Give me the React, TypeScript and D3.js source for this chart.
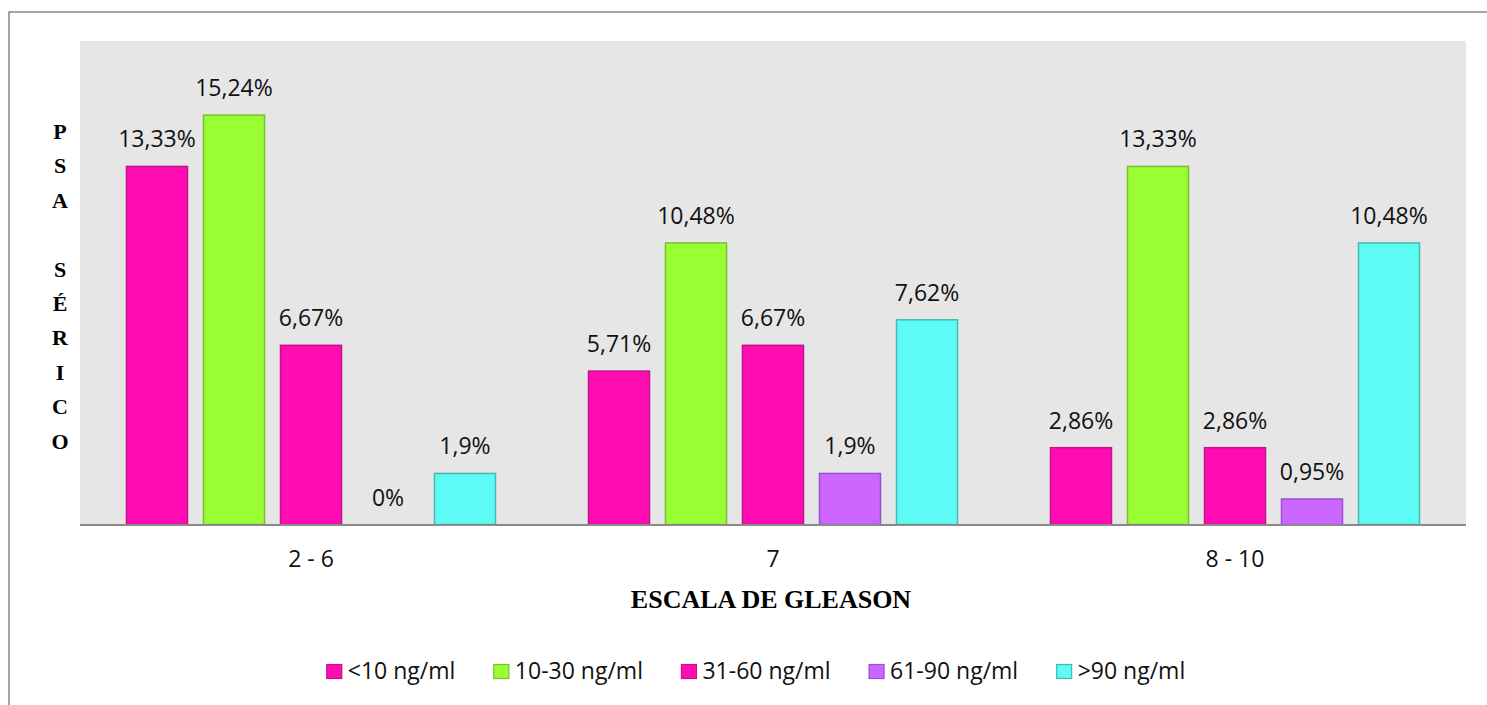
import React, { useEffect, useRef } from "react";
import * as d3 from "d3";

// Gleason score groups
const categories = ["2 - 6", "7", "8 - 10"];

// Serum PSA ranges (series)
const seriesNames = ["<10 ng/ml", "10-30 ng/ml", "31-60 ng/ml", "61-90 ng/ml", ">90 ng/ml"];

// Percentage of patients per PSA range, one array per Gleason group
const values26 = [13.33, 15.24, 6.67, 0, 1.9];
const values7 = [5.71, 10.48, 6.67, 1.9, 7.62];
const values810 = [2.86, 13.33, 2.86, 0.95, 10.48];
const groupValues = [values26, values7, values810];

const fills = ["#FF0DB0", "#99FF33", "#FF0DB0", "#CC66FF", "#5CFCF5"];
const strokes = ["#C4128A", "#78BF2C", "#C4128A", "#9A4FCB", "#45B8B2"];

const yAxisTitle = ["P", "S", "A", "", "S", "É", "R", "I", "C", "O"];
const xAxisTitle = "ESCALA DE GLEASON";

const W = 1487;
const H = 705;
const plot = { left: 80, right: 1466, top: 41, bottom: 524.5 };
const labelFont = "'Open Sans', 'DejaVu Sans', sans-serif";
const titleFont = "'Liberation Serif', 'Times New Roman', serif";

const fmt = (v: number) => String(v).replace(".", ",") + "%";

export default function App() {
  const ref = useRef<SVGSVGElement | null>(null);

  useEffect(() => {
    const svg = d3.select(ref.current);
    svg.selectAll("*").remove();

    // outer frame
    svg
      .append("rect")
      .attr("x", 9)
      .attr("y", 12)
      .attr("width", W + 20)
      .attr("height", H + 20)
      .attr("fill", "#fff")
      .attr("stroke", "#8c8c8c")
      .attr("stroke-width", 1.6);

    // plot background
    svg
      .append("rect")
      .attr("x", plot.left)
      .attr("y", plot.top)
      .attr("width", plot.right - plot.left)
      .attr("height", plot.bottom - plot.top)
      .attr("fill", "#E6E6E6");

    const x0 = d3.scaleBand<string>().domain(categories).range([plot.left, plot.right]).padding(0);
    const x1 = d3
      .scaleBand<string>()
      .domain(seriesNames)
      .range([0, x0.bandwidth()])
      .paddingInner(15 / 77)
      .paddingOuter((1 + 15 / 77) / 2);
    const y = d3.scaleLinear().domain([0, 18]).range([plot.bottom, plot.top]);

    const groups = svg
      .selectAll("g.cat")
      .data(categories)
      .join("g")
      .attr("class", "cat")
      .attr("transform", (c) => `translate(${x0(c)},0)`);

    groups.each(function (c, ci) {
      const g = d3.select(this);
      const vals = groupValues[ci];
      seriesNames.forEach((s, si) => {
        const v = vals[si];
        const bx = x1(s)!;
        if (v > 0) {
          g.append("rect")
            .attr("x", bx + 0.5)
            .attr("y", y(v))
            .attr("width", x1.bandwidth() - 1)
            .attr("height", y(0) - y(v))
            .attr("fill", fills[si])
            .attr("stroke", strokes[si])
            .attr("stroke-width", 1.5);
        }
        g.append("text")
          .attr("x", bx + x1.bandwidth() / 2)
          .attr("y", y(v) - 19)
          .attr("text-anchor", "middle")
          .attr("font-family", labelFont)
          .attr("font-size", 23)
          .attr("fill", "#111")
          .text(fmt(v));
      });
    });

    // category axis line
    svg
      .append("line")
      .attr("x1", plot.left)
      .attr("x2", plot.right)
      .attr("y1", plot.bottom + 0.5)
      .attr("y2", plot.bottom + 0.5)
      .attr("stroke", "#8a8a8a")
      .attr("stroke-width", 2);

    // category labels
    svg
      .selectAll("text.cat-label")
      .data(categories)
      .join("text")
      .attr("class", "cat-label")
      .attr("x", (c) => x0(c)! + x0.bandwidth() / 2)
      .attr("y", 567)
      .attr("text-anchor", "middle")
      .attr("font-family", labelFont)
      .attr("font-size", 23)
      .attr("fill", "#111")
      .text((c) => c);

    // x axis title
    svg
      .append("text")
      .attr("x", 771)
      .attr("y", 608)
      .attr("text-anchor", "middle")
      .attr("font-family", titleFont)
      .attr("font-weight", "bold")
      .attr("font-size", 26)
      .attr("fill", "#000")
      .text(xAxisTitle);

    // y axis title, stacked letters
    svg
      .selectAll("text.ytitle")
      .data(yAxisTitle)
      .join("text")
      .attr("class", "ytitle")
      .attr("x", 60)
      .attr("y", (_, i) => 139 + i * 34.4)
      .attr("text-anchor", "middle")
      .attr("font-family", titleFont)
      .attr("font-weight", "bold")
      .attr("font-size", 22)
      .attr("fill", "#000")
      .text((d) => d);

    // legend, laid out from measured text widths and centred
    const legend = svg.append("g");
    const items = legend
      .selectAll("g.item")
      .data(seriesNames)
      .join("g")
      .attr("class", "item");
    items
      .append("rect")
      .attr("x", 0)
      .attr("y", 664.5)
      .attr("width", 15)
      .attr("height", 14)
      .attr("fill", (_, i) => fills[i])
      .attr("stroke", (_, i) => strokes[i])
      .attr("stroke-width", 1.2);
    items
      .append("text")
      .attr("x", 21)
      .attr("y", 679)
      .attr("font-family", labelFont)
      .attr("font-size", 23)
      .attr("fill", "#111")
      .text((d) => d);
    const widths: number[] = [];
    items.each(function () {
      const t = d3.select(this).select("text").node() as SVGTextElement;
      widths.push(21 + t.getComputedTextLength());
    });
    const gap = 38.5;
    const total = d3.sum(widths) + gap * (widths.length - 1);
    let cx = 756 - total / 2;
    items.attr("transform", (_, i) => {
      const tx = cx;
      cx += widths[i] + gap;
      return `translate(${tx},0)`;
    });
  }, []);

  return (
    <svg
      ref={ref}
      width={W}
      height={H}
      style={{ position: "absolute", left: 0, top: 0, display: "block", background: "#fff" }}
    />
  );
}
